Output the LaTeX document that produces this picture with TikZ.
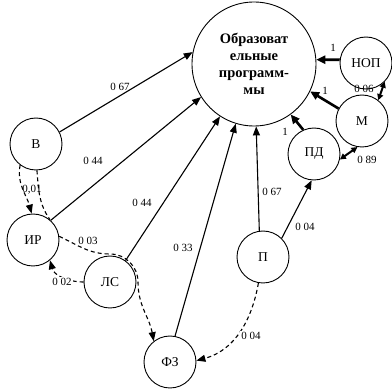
\documentclass[tikz,border=0pt]{standalone}
\usepackage{fontspec}
\setmainfont{Liberation Serif}
\usetikzlibrary{arrows.meta}
\begin{document}
\begin{tikzpicture}[x=1pt,y=1pt,
  state/.style={circle,draw,line width=0.9pt,minimum size=52pt,inner sep=0pt,
    font=\fontsize{13.5}{14}\selectfont},
  hub/.style={circle,draw,line width=0.9pt,minimum size=124pt,inner sep=0pt,
    align=center,font=\bfseries\fontsize{14.5}{16.8}\selectfont},
  link/.style={line width=1.1pt,-{Triangle[length=9pt,width=7pt]}},
  strong/.style={line width=2.6pt,-{Triangle[length=9pt,width=8pt]}},
  twoway/.style={line width=2pt,{Triangle[length=6pt,width=6pt]}-{Triangle[length=6pt,width=6pt]}},
  weak/.style={line width=1.1pt,dash pattern=on 4pt off 3pt,
    -{Triangle[length=9pt,width=7pt]}},
  plainweak/.style={line width=1.1pt,dash pattern=on 4pt off 3pt},
  wt/.style={font=\fontsize{11}{12}\selectfont,inner sep=1pt},
  wtb/.style={wt,fill=white},
]
\useasboundingbox (0,0) rectangle (392,389);

% nodes
\node[hub]   (edu) at (254,325) {Образоват\\ельные\\программ-\\мы};
\node[state] (nop) at (366,326) {НОП};
\node[state] (m)   at (362,268) {М};
\node[state] (pd)  at (314,235) {ПД};
\node[state] (v)   at (36,245)  {В};
\node[state] (ir)  at (33,149)  {ИР};
\node[state] (ls)  at (110,107) {ЛС};
\node[state] (fz)  at (170,27)  {ФЗ};
\node[state] (p)   at (263,132) {П};

% helper points for the dashed path around ЛС
\coordinate (lsT) at (110,135);
\coordinate (lsR) at (138,107);

% solid links into the central node
\draw[link] (v.27)  -- (edu.169);
\draw[link] (ir.48) -- (edu.-148);
\draw[link] (ls.54) -- (edu.-123.5);
\draw[link] (fz.79) -- (edu.-107);
\draw[link] (p.98)  -- (edu.-88);
\draw[link] (p.45)  -- (pd.-95);

% strong links
\draw[strong] (pd.114)  -- (edu.-54);
\draw[strong] (m.152)   -- (edu.-26);
\draw[strong] (nop.173) -- (edu.4);
\draw[twoway] (nop.-45) -- (m.52);
\draw[twoway] (pd.-12)  -- (m.-100);

% dashed links
\draw[weak] (v.-127) to[out=-100,in=105] (ir.93);
\draw[plainweak] (v.-88) to[out=-85,in=125] (ir.50);
\draw[weak] (ir.8) to[out=-25,in=180] (lsT) to[out=0,in=90] (lsR)
  to[out=-90,in=100] (fz.128);
\draw[weak] (ls.180) to[out=180,in=-75] (ir.-50);
\draw[weak] (p.-100) to[out=-100,in=15] (fz.3);

% weights
\node[wt] (w1)  at (120,302) {0 67};
\node[wt] (w2)  at (93,228)  {0 44};
\node[wt] (w3)  at (142,186) {0 44};
\node[wt] (w4)  at (183,141) {0 33};
\node[wt] (w5)  at (272,197) {0 67};
\node[wt] (w6)  at (305,162) {0 04};
\node[wt] (w7)  at (333,341) {1};
\node[wt] (w8)  at (325,298) {1};
\node[wt] (w9)  at (285,257) {1};
\node[wt] (w10) at (364,300) {0 06};
\node[wt] (w11) at (367,229) {0 89};
\node[wt] (w12) at (32,199)  {0,01};
\node[wt] (w13) at (88,148)  {0 03};
\node[wtb] (w14) at (62,107) {0 02};
\node[wtb] (w15) at (251,53) {0 04};
\end{tikzpicture}
\end{document}
